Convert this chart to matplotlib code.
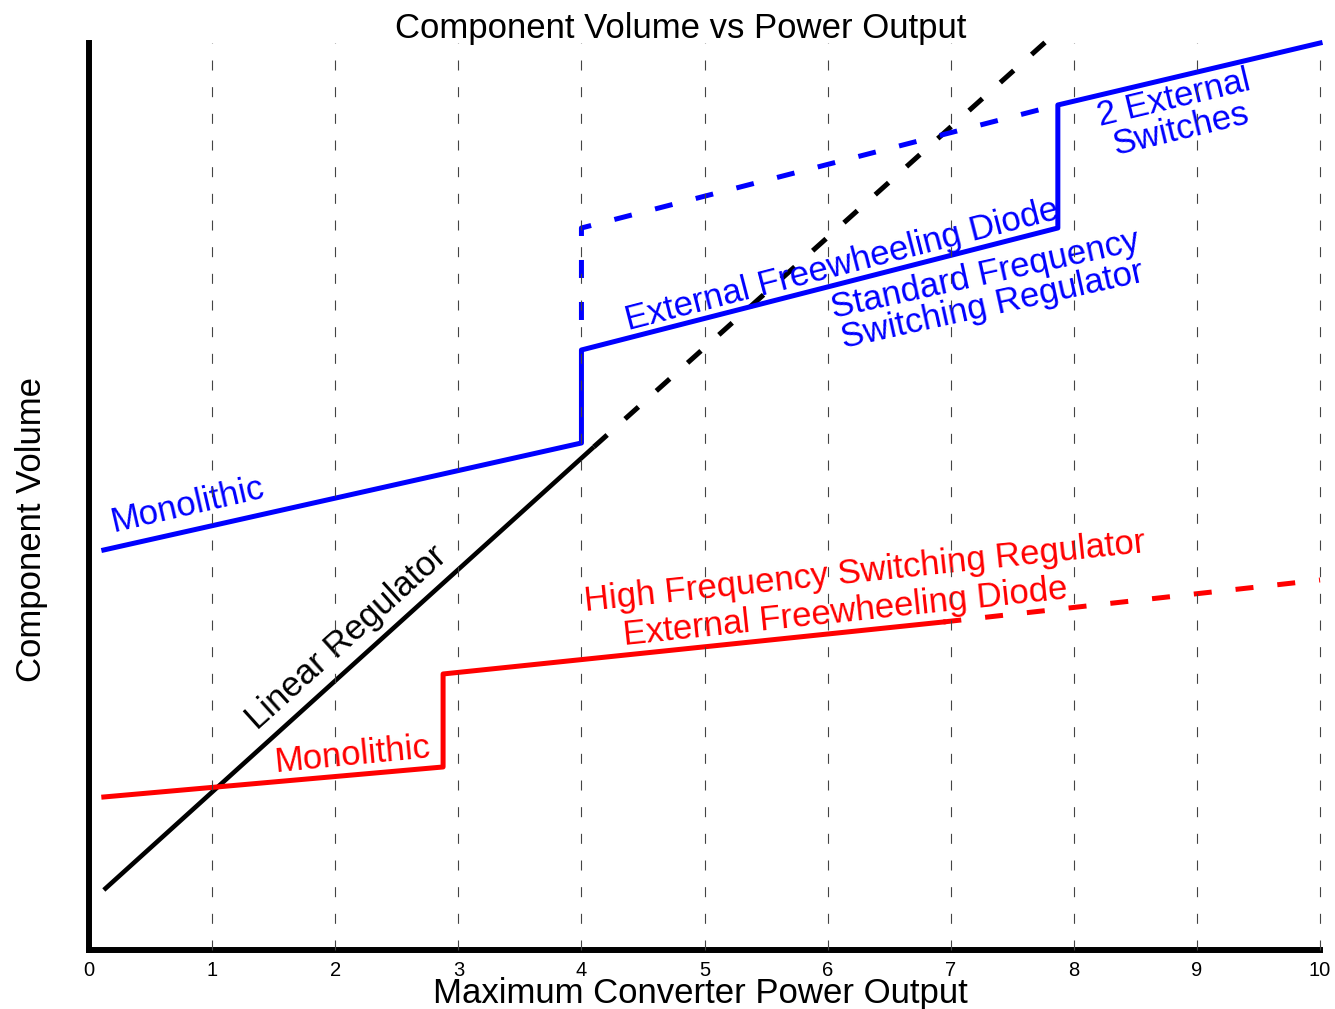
import matplotlib
matplotlib.use("Agg")
import matplotlib.pyplot as plt

plt.rcParams['font.family'] = ['Liberation Sans', 'DejaVu Sans']

# power output (x) and component volume (arbitrary units)
lin_x = [0.12, 4.1]
lin_y = [60, 503]
lin_ext_x = [4.1, 7.77]
lin_ext_y = [503, 908]

std_x = [0.12, 4.0, 4.0, 7.87, 7.87, 10.0]
std_y = [400, 507, 600, 722, 845, 907]
std_alt_x = [4.0, 4.0, 7.87]
std_alt_y = [630, 722, 845]

hf_x = [0.12, 2.876, 2.876, 6.94]
hf_y = [153, 183, 276, 328]
hf_ext_x = [6.94, 10.0]
hf_ext_y = [328, 370]

xticks = list(range(11))

fig = plt.figure(figsize=(13.35, 10.09), dpi=100)
ax = fig.add_axes([0.0667, 0.0585, 0.9221, 0.8989])
ax.set_xlim(0, 10)
ax.set_ylim(0, 907)

# vertical dashed grid, drawn above the curves like the original
for x in xticks[1:]:
    ax.plot([x, x], [0, 907], color='#444444', lw=0.8, dashes=(9, 15), zorder=5, clip_on=False)

ax.plot(lin_x, lin_y, color='black', lw=3.3, zorder=3, solid_capstyle='butt')
ax.plot(lin_ext_x, lin_ext_y, color='black', lw=3.6, dashes=(3.6, 4.8), zorder=3, clip_on=False)

ax.plot(std_x, std_y, color='blue', lw=3.6, zorder=3, clip_on=False)
ax.plot(std_alt_x, std_alt_y, color='blue', lw=3.6, dashes=(3.6, 4.8), zorder=3)

ax.plot(hf_x, hf_y, color='red', lw=3.6, zorder=3)
ax.plot(hf_ext_x, hf_ext_y, color='red', lw=3.6, dashes=(3.6, 4.8), zorder=3, clip_on=False)

fs = 25
kw = dict(ha='center', va='center', rotation_mode='anchor', fontsize=fs, zorder=4)
ax.text(0.80, 445, 'Monolithic', color='blue', rotation=13, **kw)
ax.text(6.12, 685, 'External Freewheeling Diode', color='blue', rotation=14.5, **kw)
ax.text(7.31, 660, 'Standard Frequency\nSwitching Regulator', color='blue', rotation=12.5,
        linespacing=0.95, **kw)
ax.text(8.84, 836, '2 External\nSwitches', color='blue', rotation=13.5, linespacing=0.95, **kw)
ax.text(6.30, 378, 'High Frequency Switching Regulator', color='red', rotation=6, **kw)
ax.text(6.14, 338, 'External Freewheeling Diode', color='red', rotation=6, **kw)
ax.text(2.14, 195, 'Monolithic', color='red', rotation=5.5, **kw)
ax.text(2.09, 312, 'Linear Regulator', color='black', rotation=42, **kw)

for s in ['top', 'right']:
    ax.spines[s].set_visible(False)
ax.spines['left'].set_linewidth(4.3)
ax.spines['bottom'].set_linewidth(4.3)
ax.set_xticks(xticks)
ax.set_xticklabels([str(t) for t in xticks])
ax.set_yticks([])
ax.tick_params(axis='x', length=0, pad=8, labelsize=14.5)

fig.text(681 / 1335, 1 - 38 / 1009, 'Component Volume vs Power Output', fontsize=fs,
         ha='center', va='baseline')
fig.text(700 / 1335, 1 - 1003 / 1009, 'Maximum Converter Power Output', fontsize=fs,
         ha='center', va='baseline')
fig.text(32 / 1335, 1 - 529 / 1009, 'Component Volume', fontsize=fs, rotation=90,
         ha='center', va='center')

fig.savefig('out.png', dpi=100)
